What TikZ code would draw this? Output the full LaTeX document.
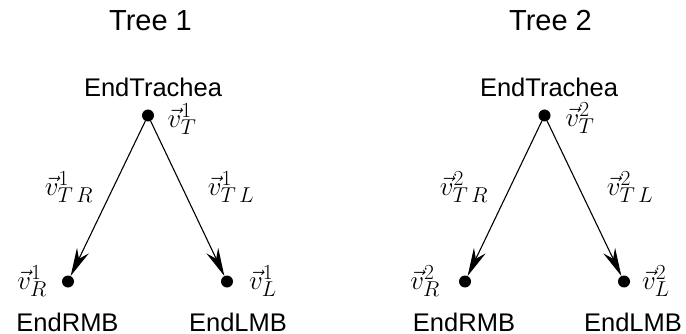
\RequirePackage{fix-cm}
\documentclass[tikz,border=0pt]{standalone}
\usepackage[no-math]{fontspec}
\newfontfamily\lsans{Liberation Sans}
\DeclareMathSizes{27}{27}{21.5}{16}
\usetikzlibrary{arrows.meta}
\begin{document}
\begin{tikzpicture}[x=1pt,y=-1pt,
  dot/.style={circle,fill=black,inner sep=0pt,minimum size=12pt},
  title/.style={font=\lsans\fontsize{29}{32}\selectfont,anchor=base,inner sep=0pt},
  lbl/.style={font=\lsans\fontsize{25.5}{28}\selectfont,anchor=base,inner sep=0pt},
  mlbl/.style={font=\fontsize{27}{30}\selectfont,inner sep=0pt},
  edge/.style={line width=1.1pt,-{Stealth[length=28pt,width=13pt,inset=9pt]}}]
\useasboundingbox (0,0) rectangle (686,334);
% Tree 1
\node[title] (t1) at (150.5,31) {Tree 1};
\node[dot] (T1) at (148,115.5) {};
\node[dot] (R1) at (68,281.5) {};
\node[dot] (L1) at (227,281.5) {};
\node[lbl] (nT1) at (153,97) {EndTrachea};
\node[lbl] (nR1) at (67.5,331) {EndRMB};
\node[lbl] (nL1) at (238,331) {EndLMB};
\draw[edge] (T1) -- (R1);
\draw[edge] (T1) -- (L1);
\node[mlbl] (vT1) at (182,119) {$\vec{v}^{1}_{T}$};
\node[mlbl] (vTR1) at (69,187) {$\vec{v}^{1}_{T\,R}$};
\node[mlbl] (vTL1) at (231,187) {$\vec{v}^{1}_{T\,L}$};
\node[mlbl] (vR1) at (32,281) {$\vec{v}^{1}_{R}$};
\node[mlbl] (vL1) at (263,281) {$\vec{v}^{1}_{L}$};
% Tree 2
\node[title] (t2) at (550.5,31) {Tree 2};
\node[dot] (T2) at (544.5,115.5) {};
\node[dot] (R2) at (465,281.5) {};
\node[dot] (L2) at (624,281.5) {};
\node[lbl] (nT2) at (549,97) {EndTrachea};
\node[lbl] (nR2) at (464,331) {EndRMB};
\node[lbl] (nL2) at (633,331) {EndLMB};
\draw[edge] (T2) -- (R2);
\draw[edge] (T2) -- (L2);
\node[mlbl] (vT2) at (580,118) {$\vec{v}^{2}_{T}$};
\node[mlbl] (vTR2) at (464,187) {$\vec{v}^{2}_{T\,R}$};
\node[mlbl] (vTL2) at (630,187) {$\vec{v}^{2}_{T\,L}$};
\node[mlbl] (vR2) at (425,281) {$\vec{v}^{2}_{R}$};
\node[mlbl] (vL2) at (656,281) {$\vec{v}^{2}_{L}$};
\end{tikzpicture}
\end{document}
